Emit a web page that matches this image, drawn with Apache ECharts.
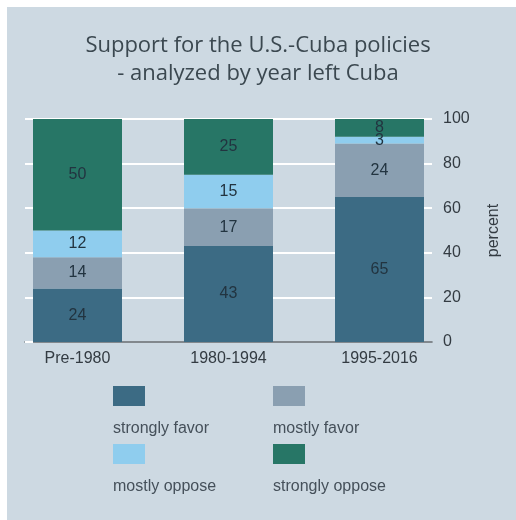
<!DOCTYPE html>
<html>
<head>
<meta charset="utf-8">
<script src="https://cdn.jsdelivr.net/npm/echarts@6/dist/echarts.min.js"></script>
<style>
html,body{margin:0;padding:0;background:#ffffff;}
#panel{position:absolute;left:7px;top:7px;width:509px;height:513px;background:#cdd9e2;}
#chart{position:absolute;left:0;top:0;width:516px;height:520px;}
</style>
</head>
<body>
<div id="panel"></div>
<div id="chart"></div>
<script>
var categories = ['Pre-1980', '1980-1994', '1995-2016'];
var seriesNames = ['strongly favor', 'mostly favor', 'mostly oppose', 'strongly oppose'];
var stronglyFavor = [24, 43, 65];
var mostlyFavor = [14, 17, 24];
var mostlyOppose = [12, 15, 3];
var stronglyOppose = [50, 25, 8];
var yMin = 0, yMax = 100, yInterval = 20;

var colors = ['#3c6b84', '#8a9fb1', '#8fcdee', '#277666'];
var values = [stronglyFavor, mostlyFavor, mostlyOppose, stronglyOppose];

var chart = echarts.init(document.getElementById('chart'));

var legendPos = [[113, 386], [273, 386], [113, 444], [273, 444]];
var legends = seriesNames.map(function (n, i) {
  return {
    data: [n],
    left: legendPos[i][0],
    top: legendPos[i][1],
    padding: 0,
    icon: 'rect',
    itemWidth: 32,
    itemHeight: 20,
    selectedMode: false,
    formatter: function (name) { return '{a|' + name + '}'; },
    textStyle: {
      fontFamily: 'Liberation Sans',
      fontSize: 16,
      color: '#45505a',
      rich: {
        a: {
          fontFamily: 'Liberation Sans',
          fontSize: 16,
          color: '#45505a',
          padding: [66, 0, 0, -37]
        }
      }
    }
  };
});

var series = seriesNames.map(function (n, i) {
  return {
    name: n,
    type: 'bar',
    stack: 'total',
    xAxisIndex: 0,
    yAxisIndex: 0,
    barWidth: 89,
    itemStyle: { color: colors[i] },
    label: {
      show: true,
      position: 'inside',
      fontFamily: 'Liberation Sans',
      fontSize: 16,
      color: '#223440'
    },
    data: values[i]
  };
});

chart.setOption({
  backgroundColor: 'transparent',
  animation: false,
  color: colors,
  title: {
    text: 'Support for the U.S.-Cuba policies\n- analyzed by year left Cuba',
    left: 'center',
    top: 27,
    textStyle: {
      fontFamily: 'Open Sans',
      fontSize: 22,
      fontWeight: 'normal',
      color: '#3b4850',
      lineHeight: 28
    }
  },
  legend: legends,
  grid: [
    { left: 2, right: 61, top: 119, bottom: 178 },
    { left: 25, right: 84, top: 119, bottom: 178 }
  ],
  xAxis: [
    {
      type: 'category',
      gridIndex: 0,
      data: categories,
      axisLine: { show: false },
      axisTick: { show: false },
      axisLabel: {
        margin: 9,
        fontFamily: 'Liberation Sans',
        fontSize: 16,
        color: '#333b42'
      }
    },
    {
      type: 'value',
      gridIndex: 1,
      min: 0,
      max: 1,
      axisLine: { show: true, lineStyle: { color: '#5a6168', width: 1.5 } },
      axisTick: { show: false },
      axisLabel: { show: false },
      splitLine: { show: false }
    }
  ],
  yAxis: [
    {
      type: 'value',
      gridIndex: 0,
      min: yMin,
      max: yMax,
      interval: yInterval,
      show: false
    },
    {
      type: 'value',
      gridIndex: 1,
      position: 'right',
      min: yMin,
      max: yMax,
      interval: yInterval,
      name: 'percent',
      nameLocation: 'middle',
      nameGap: 54,
      nameTextStyle: {
        fontFamily: 'Liberation Sans',
        fontSize: 16,
        color: '#333b42'
      },
      axisLine: { show: false },
      axisTick: { show: true, length: 8, lineStyle: { color: '#ffffff', width: 2 } },
      axisLabel: {
        margin: 11,
        fontFamily: 'Liberation Sans',
        fontSize: 16,
        color: '#333b42'
      },
      splitLine: { show: true, lineStyle: { color: '#ffffff', width: 2 } }
    }
  ],
  series: series
});
</script>
</body>
</html>
